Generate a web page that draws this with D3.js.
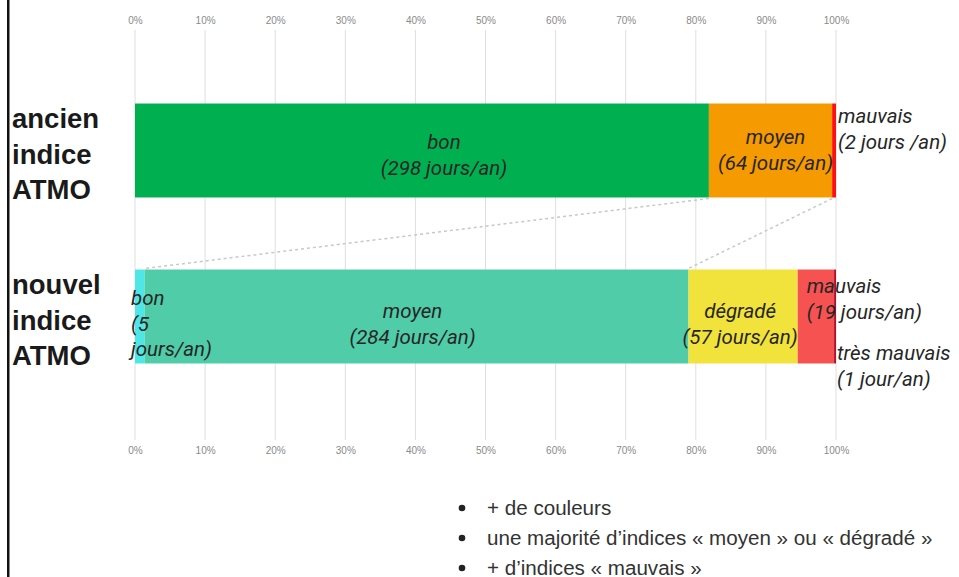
<!DOCTYPE html>
<html><head><meta charset="utf-8">
<script src="https://cdn.jsdelivr.net/npm/d3@7"></script>
<style>
html,body{margin:0;padding:0;background:#fff;}
svg{display:block;}
</style></head>
<body>
<svg id="c" width="959" height="577"></svg>
<script>
// ---- data ----
const rows = ["ancien", "nouvel"];
const rowLabels = [["ancien","indice","ATMO"],["nouvel","indice","ATMO"]];
const ancienCats = ["bon","moyen","mauvais"];
const ancienDays = [298, 64, 2];
const nouvelCats = ["bon","moyen","dégradé","mauvais","très mauvais"];
const nouvelDays = [5, 284, 57, 19, 1];
const ancienColors = ["#00b050","#f59a00","#ff1010"];
const nouvelColors = ["#4ee6e6","#50cca8","#f2e23c","#f65252","#b0102a"];
const ticks = [0,10,20,30,40,50,60,70,80,90,100];
const ancienTexts = [["bon","(298 jours/an)"],["moyen","(64 jours/an)"],["mauvais","(2 jours /an)"]];
const nouvelTexts = [["bon","(5","jours/an)"],["moyen","(284 jours/an)"],["dégradé","(57 jours/an)"],["mauvais","(19 jours/an)"],["très mauvais","(1 jour/an)"]];
const bullets = ["+ de couleurs","une majorité d\u2019indices « moyen » ou « dégradé »","+ d\u2019indices « mauvais »"];

const svg = d3.select("#c");
const x = d3.scaleLinear().domain([0,100]).range([135,836]);
const y = d3.scaleBand().domain(rows).range([67.5,399.5]).paddingInner(0.434).paddingOuter(0.217);

// frame line at left
svg.append("rect").attr("x",7).attr("y",0).attr("width",2.5).attr("height",577).attr("fill","#111");

// gridlines
svg.append("g").selectAll("line").data(ticks).join("line")
  .attr("x1",d=>x(d)).attr("x2",d=>x(d)).attr("y1",30).attr("y2",440)
  .attr("stroke","#dedede").attr("stroke-width",1);

// axes
const axTop = d3.axisTop(x).tickValues(ticks).tickFormat(d=>d+"%").tickSize(0).tickPadding(0);
const gt = svg.append("g").attr("transform","translate(0,24)").call(axTop);
const axBot = d3.axisBottom(x).tickValues(ticks).tickFormat(d=>d+"%").tickSize(0).tickPadding(0);
const gb = svg.append("g").attr("transform","translate(0,447)").call(axBot);
[gt,gb].forEach(g=>{
  g.select(".domain").remove();
  g.selectAll("text").attr("fill","#8a8a8a").attr("font-size","10px")
   .attr("font-family","'Liberation Sans Narrow','Liberation Sans',Arial,sans-serif");
});

function stack(vals){
  const tot = d3.sum(vals); let acc=0;
  return vals.map(v=>{const s=acc/tot*100; acc+=v; return [s, acc/tot*100];});
}
const ancienStack = stack(ancienDays);
const nouvelStack = stack(nouvelDays);

function drawBar(row, st, colors){
  svg.append("g").selectAll("rect").data(st).join("rect")
    .attr("x",d=>x(d[0])).attr("width",d=>x(d[1])-x(d[0]))
    .attr("y",y(row)).attr("height",y.bandwidth())
    .attr("fill",(d,i)=>colors[i]);
}
drawBar("ancien", ancienStack, ancienColors);
drawBar("nouvel", nouvelStack, nouvelColors);

// dashed connectors
const conn = [[ancienStack[1][0], nouvelStack[1][0]],[ancienStack[2][0], nouvelStack[2][0]]];
svg.append("g").selectAll("line").data(conn).join("line")
  .attr("x1",d=>x(d[0])).attr("y1",y("ancien")+y.bandwidth()+1)
  .attr("x2",d=>x(d[1])).attr("y2",y("nouvel")-1)
  .attr("stroke","#c8c8c8").attr("stroke-width",1.5).attr("stroke-dasharray","3,3");

// row labels
rowLabels.forEach((lines,i)=>{
  const cy = y(rows[i]) + y.bandwidth()/2;
  const t = svg.append("text").attr("x",12).attr("font-family","'Liberation Sans',Arial,sans-serif")
    .attr("font-weight","bold").attr("font-size","27.5px").attr("fill","#1a1a1a");
  lines.forEach((l,j)=>t.append("tspan").attr("x",12).attr("y",cy+(j-1)*35.5+13).text(l));
});

// segment labels
const font = "Roboto,'Noto Sans',sans-serif";
function label(lines, px, py, anchor){
  const t = svg.append("text").attr("font-family",font).attr("font-style","italic")
    .attr("font-size","20.5px").attr("fill","#262626").attr("text-anchor",anchor);
  lines.forEach((l,j)=>t.append("tspan").attr("x",px).attr("y",py+j*25.5).text(l));
}
const yA = y("ancien"), yN = y("nouvel");
const mid = s=>x((s[0]+s[1])/2);
label(ancienTexts[0], mid(ancienStack[0])+22, yA+45.5, "middle");
label(ancienTexts[1], mid(ancienStack[1])+5, yA+40.5, "middle");
label(ancienTexts[2], x(ancienStack[2][1])+2, yA+19.5, "start");
label(nouvelTexts[0], x(nouvelStack[0][0])-4, yN+35.5, "start");
label(nouvelTexts[1], mid(nouvelStack[1])-4, yN+48.5, "middle");
label(nouvelTexts[2], mid(nouvelStack[2])-3, yN+48.5, "middle");
label(nouvelTexts[3], x(nouvelStack[3][0])+9, yN+23.5, "start");
label(nouvelTexts[4], x(nouvelStack[4][1])+1, yN+90.5, "start");

// bullets
const bg = svg.append("g");
bullets.forEach((b,i)=>{
  const by = 508 + i*30;
  bg.append("circle").attr("cx",462).attr("cy",by).attr("r",3.3).attr("fill","#222");
  bg.append("text").attr("x",0).attr("y",0)
    .attr("transform",`translate(487,${by+6.5}) scale(1.03,1)`)
    .attr("font-family","'Liberation Sans',Arial,sans-serif")
    .attr("font-size","20px").attr("fill","#333").text(b);
});
</script>
</body></html>
